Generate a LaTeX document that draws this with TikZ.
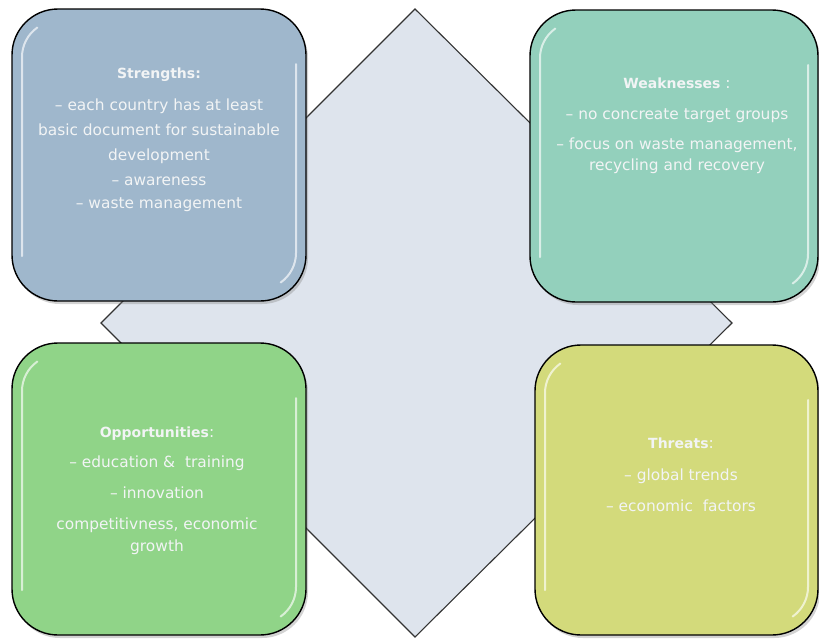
\documentclass[tikz,border=0pt]{standalone}
\usepackage{fontspec}
\setmainfont{DejaVu Sans}
\usetikzlibrary{shadows}
\definecolor{diafill}{HTML}{DEE4ED}
\definecolor{sfill}{HTML}{9FB7CC}
\definecolor{wfill}{HTML}{93D0BC}
\definecolor{ofill}{HTML}{90D488}
\definecolor{tfill}{HTML}{D3DA7B}
\definecolor{txt}{HTML}{F2F4F5}
\newcommand{\ttl}[1]{{\fontsize{14}{18}\selectfont\bfseries #1}}
\tikzset{
  swotbox/.style={draw=black, line width=1.4pt, rounded corners=46pt,
    drop shadow={opacity=0.35, shadow xshift=2pt, shadow yshift=-3pt}},
  swottext/.style={text=txt, align=center, font=\fontsize{15.4}{18}\selectfont, anchor=north, inner sep=0pt},
  gloss/.style={draw=white, line width=2pt, opacity=0.65, line cap=round},
}
\begin{document}
\begin{tikzpicture}[x=1pt,y=-1pt]
\useasboundingbox (0,0) rectangle (819,638);
% diamond
\coordinate (dt) at (415,9);
\coordinate (dl) at (101,323);
\coordinate (dr) at (732,323);
\coordinate (db) at (415,637);
\draw[fill=diafill, draw=black!80, line width=1.1pt] (dt) -- (dr) -- (db) -- (dl) -- cycle;
% boxes
\draw[swotbox, fill=sfill] (12,9) rectangle (306,301);
\draw[swotbox, fill=wfill] (530,10) rectangle (818,302);
\draw[swotbox, fill=ofill] (12,343) rectangle (306,635);
\draw[swotbox, fill=tfill] (535,345) rectangle (818,635);
% gloss highlights
\foreach \xa/\ya/\xb/\yb in {12/9/306/301, 530/10/818/302, 12/343/306/635, 535/345/818/635}{
  \draw[gloss] (\xa+10,\yb-45) -- (\xa+10,\ya+48) arc[start angle=180, end angle=235, radius=36];
  \draw[gloss] (\xb-10,\ya+55) -- (\xb-10,\yb-48) arc[start angle=0, end angle=55, radius=36];
}
% texts
\node[swottext] (st) at (159,68) {\ttl{Strengths:}\\[14pt]
– each country has at least\\[7pt]
basic document for sustainable\\[7pt]
development\\[7pt]
– awareness\\[5pt]
– waste management};
\node[swottext] (wt) at (677,78) {\ttl{Weaknesses} :\\[13pt]
– no concreate target groups\\[12pt]
– focus on waste management,\\[3pt]
recycling and recovery};
\node[swottext] (ot) at (157,427) {\ttl{Opportunities}:\\[12pt]
– education \&\ \ training\\[13pt]
– innovation\\[13pt]
competitivness, economic\\[4pt]
growth};
\node[swottext] (tt) at (681,438) {\ttl{Threats}:\\[14pt]
– global trends\\[13pt]
– economic\ \ factors};
\end{tikzpicture}
\end{document}
